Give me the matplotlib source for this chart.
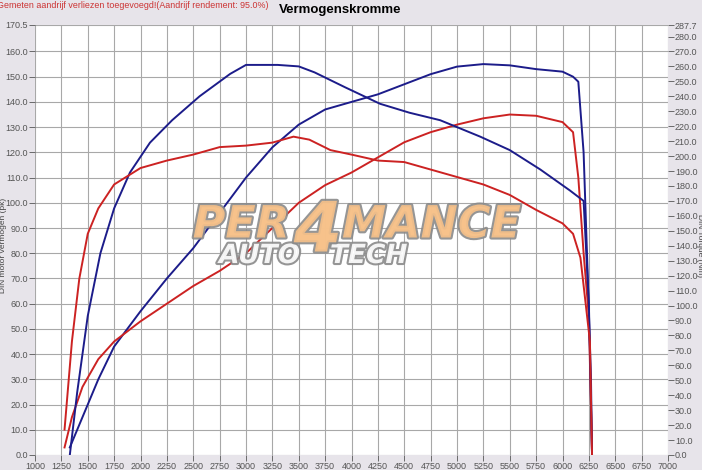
import matplotlib
matplotlib.use("Agg")
import matplotlib.pyplot as plt
import matplotlib.patheffects as pe

plt.rcParams["font.family"] = ["Liberation Sans", "DejaVu Sans"]

# ---- data ----
blue_power_rpm = [1330, 1450, 1600, 1750, 2000, 2250, 2500, 2750, 3000, 3250, 3500, 3750, 4000,
                  4250, 4500, 4750, 5000, 5250, 5500, 5750, 6000, 6100, 6150, 6200, 6240, 6270, 6280]
blue_power_pk = [3, 15, 30, 43, 57, 70, 82, 96, 110, 122, 131, 137, 140,
                 143, 147, 151, 154, 155, 154.5, 153, 152, 150, 148, 120, 70, 30, 0]

blue_torque_rpm = [1330, 1400, 1500, 1620, 1750, 1900, 2090, 2300, 2560, 2850, 3000, 3300, 3500,
                   3650, 3940, 4270, 4550, 4840, 5220, 5500, 5790, 6070, 6200, 6250, 6280]
blue_torque_nm = [0, 42, 93, 135, 165, 189, 209, 224, 240, 255, 261, 261, 260,
                  256, 246, 235, 229, 224, 213, 204, 191, 177, 170, 101, 0]

red_power_rpm = [1280, 1350, 1450, 1600, 1750, 2000, 2250, 2500, 2750, 3000, 3250, 3500, 3750,
                 4000, 4250, 4500, 4750, 5000, 5250, 5500, 5750, 6000, 6100, 6150, 6200, 6250, 6280]
red_power_pk = [3, 15, 27, 38, 45, 53, 60, 67, 73, 80, 90, 100, 107,
                112, 118, 124, 128, 131, 133.5, 135, 134.5, 132, 128, 110, 80, 55, 0]

red_torque_rpm = [1280, 1350, 1420, 1500, 1600, 1750, 2000, 2250, 2500, 2750, 3000, 3250, 3450,
                  3600, 3800, 4000, 4250, 4500, 4750, 5000, 5250, 5500, 5750, 6000, 6100, 6170,
                  6220, 6260, 6280]
red_torque_nm = [17, 76, 118, 148, 165, 181, 192, 197, 201, 206, 207, 209, 213,
                 211, 204, 201, 197, 196, 191, 186, 181, 174, 164, 155, 148, 132,
                 101, 76, 0]

x_ticks = list(range(1000, 7001, 250))
left_ticks = [i * 10.0 for i in range(17)] + [170.5]
right_ticks = [i * 10.0 for i in range(29)] + [287.7]

title = "Vermogenskromme"
note = "Gemeten aandrijf verliezen toegevoegd!(Aandrijf rendement: 95.0%)"
left_label = "DIN motor vermogen (pk)"
right_label = "DIN Torque (Nm)"

# ---- figure ----
bg = "#e7e4ea"
fig = plt.figure(figsize=(7.02, 4.70), dpi=100, facecolor=bg)
ax = fig.add_axes([35 / 702, 15 / 470, 633 / 702, 430 / 470])
ax.set_facecolor("white")
ax2 = ax.twinx()

ax.set_xlim(1000, 7000)
ax.set_ylim(0, 170.5)
ax2.set_ylim(0, 287.7)

ax.set_xticks(x_ticks)
ax.set_xticklabels([str(t) for t in x_ticks])
ax.set_yticks(left_ticks)
ax.set_yticklabels([f"{t:.1f}" for t in left_ticks])
ax2.set_yticks(right_ticks)
ax2.set_yticklabels([f"{t:.1f}" for t in right_ticks])

ax.grid(True, color="#a8a8a8", linewidth=0.8)
ax.set_axisbelow(True)
for a in (ax, ax2):
    for s in a.spines.values():
        s.set_visible(False)
ax.tick_params(axis="both", labelsize=6.5, colors="#555555", length=4, width=0.6, pad=1)
ax2.tick_params(axis="y", labelsize=6.5, colors="#555555", length=4, width=0.6, pad=1)

blue = "#1c1c8a"
red = "#cc2222"
ax.plot(blue_power_rpm, blue_power_pk, color=blue, lw=1.4, zorder=3)
ax2.plot(blue_torque_rpm, blue_torque_nm, color=blue, lw=1.4, zorder=3)
ax.plot(red_power_rpm, red_power_pk, color=red, lw=1.4, zorder=3)
ax2.plot(red_torque_rpm, red_torque_nm, color=red, lw=1.4, zorder=3)

# watermark logo
stroke = [pe.withStroke(linewidth=3, foreground="#8a8a8a")]
logo = dict(fontweight="bold", style="italic", color="#f7c28a", va="center",
            alpha=0.9, path_effects=stroke, family="DejaVu Sans")
fig.text(290 / 702, 1 - 225 / 470, "PER", fontsize=32, ha="right", zorder=5, **logo)
fig.text(318 / 702, 1 - 232 / 470, "4", fontsize=50, ha="center", zorder=6, **logo)
fig.text(342 / 702, 1 - 225 / 470, "MANCE", fontsize=32, ha="left", zorder=5, **logo)
logo2 = dict(logo)
logo2["color"] = "white"
fig.text(300 / 702, 1 - 256 / 470, "AUTO", fontsize=19, ha="right", zorder=5, **logo2)
fig.text(330 / 702, 1 - 256 / 470, "TECH", fontsize=19, ha="left", zorder=5, **logo2)

fig.text(340 / 702, 1 - 10 / 470, title, fontsize=9.5, fontweight="bold",
         ha="center", va="center", color="black")
fig.text(-3 / 702, 1 - 6 / 470, note, fontsize=6.4, color="#cc3333",
         ha="left", va="center")
fig.text(4 / 702, 1 - 245 / 470, left_label, fontsize=6, color="#444444",
         rotation=90, ha="center", va="center")
fig.text(699 / 702, 1 - 245 / 470, right_label, fontsize=6, color="#444444",
         rotation=270, ha="center", va="center")

fig.savefig("out.png", dpi=100, facecolor=bg)
